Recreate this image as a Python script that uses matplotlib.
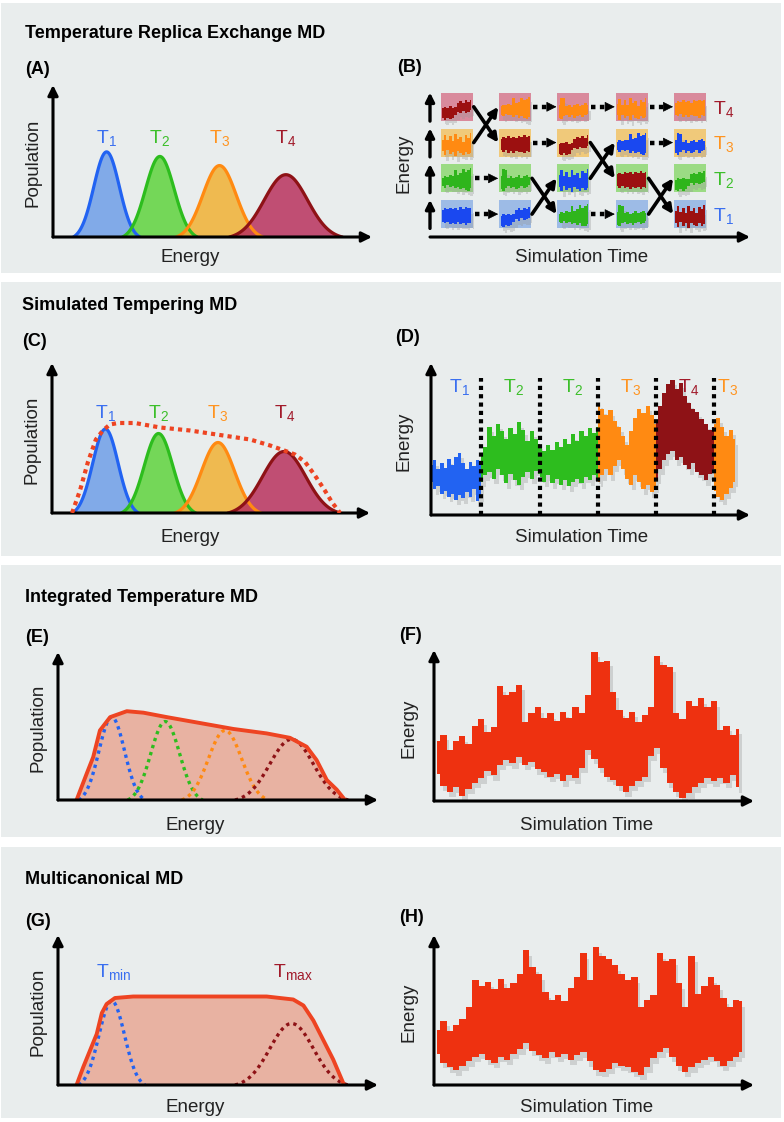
#schematic of enhanced sampling MD methods (REMD, ST, ITS, multicanonical)
import numpy as np
import matplotlib.pyplot as plt
import matplotlib.patheffects as pe
from matplotlib.patches import Rectangle

plt.rcParams['font.family'] = ['Liberation Sans', 'DejaVu Sans']
plt.rcParams['mathtext.fontset'] = 'custom'
plt.rcParams['mathtext.rm'] = 'Liberation Sans'
plt.rcParams['mathtext.it'] = 'Liberation Sans'

W, H = 784, 1122

# canonical distributions at T1..T4 (energy axis 0..10, population 0..1)
temp_names = ['1', '2', '3', '4']
peak_pos = [1.68, 3.35, 5.22, 7.30]
peak_h = [0.56, 0.53, 0.47, 0.41]
peak_sd = [0.40, 0.45, 0.52, 0.68]
line_col = ['#2263f2', '#2dbd1e', '#ff8a12', '#8e1216']
fill_col = ['#6f9fe8', '#60d43e', '#f1b235', '#b9325e']
label_col = ['#3a6ff0', '#3cbf2a', '#ff9420', '#a11a2a']

# simulated tempering envelope (C)
st_env_x = [0.63, 0.88, 1.13, 1.38, 1.60, 1.82, 2.08, 2.61, 3.40, 4.34, 5.28, 6.23,
            6.86, 7.26, 7.64, 7.96, 8.27, 8.58, 8.81, 9.06]
st_env_y = [0.0, 0.15, 0.34, 0.49, 0.55, 0.59, 0.60, 0.60, 0.57, 0.55, 0.52, 0.49,
            0.45, 0.42, 0.39, 0.34, 0.25, 0.15, 0.07, 0.0]

# integrated temperature envelope (E)
its_env_x = [0.58, 0.90, 1.10, 1.31, 1.63, 2.15, 2.67, 3.40, 4.44, 5.48, 6.52, 7.25,
             7.77, 8.08, 8.40, 8.71, 8.97]
its_env_y = [0.0, 0.18, 0.29, 0.47, 0.56, 0.60, 0.59, 0.56, 0.52, 0.48, 0.45, 0.42,
             0.36, 0.27, 0.135, 0.07, 0.0]

# multicanonical envelope (G)
muca_env_x = [0.58, 0.79, 1.00, 1.21, 1.37, 1.52, 1.78, 2.35, 4.44, 6.52, 7.35, 7.67,
              7.98, 8.29, 8.60, 8.92]
muca_env_y = [0.0, 0.12, 0.23, 0.34, 0.48, 0.54, 0.58, 0.59, 0.59, 0.59, 0.57, 0.53,
              0.43, 0.30, 0.17, 0.01]

# (B) replica exchange grid: replica found at T1..T4 in each time column
rep_colors = {'b': '#1a48f0', 'g': '#2fb51c', 'o': '#ff8a12', 'r': '#9c1010'}
row_bg = ['#9dbbe6', '#9bdb84', '#f0c97a', '#d98a9c']
b_grid = [['b', 'g', 'o', 'r'], ['b', 'g', 'r', 'o'], ['g', 'b', 'r', 'o'],
          ['g', 'r', 'b', 'o'], ['r', 'g', 'b', 'o']]
b_swaps = [(2, 3), (0, 1), (1, 2), (0, 1)]
# small energy traces inside the boxes (offsets from row centre)
b_up = [[0.15, 0.20, 0.17, 0.22, 0.18, 0.21, 0.16, 0.23, 0.19, 0.24, 0.20, 0.22],
        [0.00, 0.04, 0.02, 0.05, 0.01, 0.03, 0.15, 0.20, 0.16, 0.22, 0.18, 0.24],
        [0.05, 0.10, 0.08, 0.12, 0.10, 0.28, 0.14, 0.18, 0.30, 0.22, 0.26, 0.32],
        [0.10, 0.30, 0.28, 0.06, 0.10, 0.04, 0.08, 0.12, 0.06, 0.10, 0.14, 0.08],
        [0.12, 0.26, 0.10, 0.22, 0.08, 0.28, 0.14, 0.20, 0.06, 0.24, 0.18, 0.30]]
b_lo = [[-0.18, -0.22, -0.17, -0.24, -0.20, -0.25, -0.19, -0.23, -0.21, -0.26, -0.20, -0.22],
        [-0.28, -0.32, -0.26, -0.30, -0.27, -0.18, -0.10, -0.14, -0.08, -0.12, -0.10, -0.06],
        [-0.18, -0.22, -0.16, -0.20, -0.18, -0.24, -0.20, -0.26, -0.22, -0.28, -0.30, -0.24],
        [-0.26, -0.30, -0.22, -0.18, -0.24, -0.20, -0.26, -0.22, -0.18, -0.24, -0.20, -0.16],
        [-0.20, -0.32, -0.18, -0.28, -0.22, -0.34, -0.20, -0.26, -0.30, -0.22, -0.28, -0.24]]

# (D) simulated tempering trajectory, one segment per temperature stay
d_bounds = [0.0, 1.57, 3.42, 5.24, 7.05, 8.87, 9.53]
d_temp = [0, 1, 1, 2, 3, 2]
d_up = [[0.33, 0.36, 0.30, 0.34, 0.31, 0.37, 0.33, 0.38, 0.41, 0.34, 0.30, 0.35, 0.32, 0.36, 0.33],
        [0.40, 0.45, 0.58, 0.52, 0.60, 0.55, 0.50, 0.57, 0.53, 0.61, 0.56, 0.49, 0.55, 0.50, 0.47],
        [0.44, 0.42, 0.46, 0.43, 0.48, 0.45, 0.50, 0.47, 0.53, 0.49, 0.55, 0.52, 0.57, 0.54, 0.58],
        [0.74, 0.70, 0.66, 0.69, 0.62, 0.58, 0.52, 0.46, 0.55, 0.64, 0.70, 0.67, 0.72, 0.66, 0.60],
        [0.62, 0.72, 0.80, 0.86, 0.89, 0.83, 0.87, 0.78, 0.74, 0.70, 0.68, 0.63, 0.60, 0.56, 0.58],
        [0.60, 0.64, 0.58, 0.52, 0.56, 0.50]]
d_lo = [[0.22, 0.17, 0.19, 0.14, 0.16, 0.12, 0.14, 0.10, 0.13, 0.11, 0.15, 0.12, 0.17, 0.09, 0.12],
        [0.22, 0.26, 0.28, 0.24, 0.30, 0.26, 0.21, 0.27, 0.23, 0.20, 0.25, 0.28, 0.24, 0.29, 0.27],
        [0.25, 0.22, 0.26, 0.21, 0.24, 0.20, 0.23, 0.19, 0.22, 0.24, 0.21, 0.25, 0.23, 0.26, 0.24],
        [0.22, 0.26, 0.30, 0.26, 0.32, 0.36, 0.30, 0.24, 0.20, 0.26, 0.22, 0.17, 0.20, 0.15, 0.18],
        [0.24, 0.30, 0.36, 0.40, 0.42, 0.36, 0.38, 0.33, 0.30, 0.34, 0.28, 0.26, 0.23, 0.27, 0.30],
        [0.16, 0.12, 0.10, 0.14, 0.18, 0.22]]

# (F) integrated temperature trajectory
f_up = [0.40, 0.44, 0.34, 0.40, 0.43, 0.38, 0.50, 0.54, 0.46, 0.49, 0.76, 0.70, 0.72,
        0.77, 0.52, 0.58, 0.62, 0.55, 0.58, 0.53, 0.59, 0.55, 0.62, 0.58, 0.70, 0.99,
        0.92, 0.93, 0.72, 0.60, 0.55, 0.59, 0.52, 0.57, 0.62, 0.96, 0.90, 0.89, 0.58,
        0.54, 0.66, 0.63, 0.68, 0.62, 0.66, 0.47, 0.50, 0.44, 0.48]
f_lo = [0.18, 0.10, 0.06, 0.09, 0.03, 0.08, 0.12, 0.15, 0.20, 0.17, 0.24, 0.27, 0.25,
        0.29, 0.24, 0.26, 0.21, 0.19, 0.16, 0.18, 0.13, 0.17, 0.15, 0.22, 0.34, 0.28,
        0.22, 0.16, 0.14, 0.10, 0.06, 0.10, 0.13, 0.16, 0.30, 0.35, 0.22, 0.12, 0.06,
        0.02, 0.05, 0.09, 0.12, 0.15, 0.13, 0.15, 0.12, 0.17, 0.09]

# (H) multicanonical trajectory
h_up = [0.37, 0.43, 0.36, 0.40, 0.44, 0.52, 0.70, 0.66, 0.69, 0.64, 0.71, 0.65, 0.68,
        0.74, 0.90, 0.79, 0.74, 0.62, 0.57, 0.60, 0.56, 0.65, 0.72, 0.88, 0.70, 0.92,
        0.86, 0.84, 0.80, 0.74, 0.70, 0.72, 0.52, 0.57, 0.60, 0.88, 0.83, 0.84, 0.68,
        0.52, 0.86, 0.61, 0.66, 0.72, 0.67, 0.58, 0.52, 0.57, 0.56]
h_lo = [0.21, 0.15, 0.12, 0.10, 0.13, 0.16, 0.19, 0.21, 0.17, 0.15, 0.19, 0.17, 0.21,
        0.24, 0.28, 0.23, 0.20, 0.18, 0.22, 0.19, 0.21, 0.17, 0.20, 0.22, 0.16, 0.10,
        0.09, 0.11, 0.15, 0.13, 0.12, 0.09, 0.07, 0.12, 0.18, 0.22, 0.25, 0.19, 0.13,
        0.09, 0.12, 0.15, 0.17, 0.19, 0.16, 0.13, 0.16, 0.19, 0.22]

trace_red = '#ee3110'
env_red = '#ee4422'
env_fill = '#e8b2a2'

fig = plt.figure(figsize=(W / 100, H / 100), dpi=100)
for y0, y1 in [(3, 273), (282, 556), (565, 837), (847, 1118)]:
    fig.add_artist(Rectangle((1 / W, 1 - y1 / H), 780 / W, (y1 - y0) / H,
                             transform=fig.transFigure, fc='#e9eded', ec='none', zorder=-5))


def panel(l, t, r, b, xlim=(0, 10), ylim=(0, 1)):
    ax = fig.add_axes([l / W, 1 - b / H, (r - l) / W, (b - t) / H])
    ax.set_xlim(*xlim)
    ax.set_ylim(*ylim)
    ax.axis('off')
    return ax


def ftext(x, y, s, **kw):
    fig.text(x / W, 1 - y / H, s, **kw)


def axis_arrows(ax, yaxis=True):
    kw = dict(arrowstyle='-|>', color='k', lw=2.2, mutation_scale=15, shrinkA=0, shrinkB=0)
    ax.annotate('', xy=(1.0, 0), xytext=(0, 0), xycoords='axes fraction', arrowprops=kw)
    if yaxis:
        ax.annotate('', xy=(0, 1.0), xytext=(0, 0), xycoords='axes fraction', arrowprops=kw)


def bell(i):
    c, h, s = peak_pos[i], peak_h[i], peak_sd[i]
    x = np.linspace(c - 2.6 * s, c + 2.6 * s, 120)
    g0 = np.exp(-2.6 ** 2 / 2)
    return x, h * (np.exp(-(x - c) ** 2 / (2 * s * s)) - g0) / (1 - g0)


shadow = [pe.SimplePatchShadow(offset=(2, -4), shadow_rgbFace='#9a9a9a', alpha=0.35), pe.Normal()]

# titles and panel letters
title_kw = dict(fontsize=13, fontweight='bold', va='center', ha='left')
ftext(25, 33, 'Temperature Replica Exchange MD', **title_kw)
ftext(22, 306, 'Simulated Tempering MD', **title_kw)
ftext(25, 597, 'Integrated Temperature MD', **title_kw)
ftext(25, 880, 'Multicanonical MD', **title_kw)
for x, y, s in [(25, 69, '(A)'), (397, 67, '(B)'), (22, 342, '(C)'), (395, 338, '(D)'),
                (25, 637, '(E)'), (399, 635, '(F)'), (25, 922, '(G)'), (399, 918, '(H)')]:
    ftext(x, y, s, **title_kw)

lab_kw = dict(fontsize=13.5, color='#222222', va='center', ha='center')
for x, y in [(33, 163), (32, 440), (38, 728), (38, 1012)]:
    ftext(x, y, 'Population', rotation=90, **lab_kw)
for x, y in [(404, 163), (404, 441), (409, 728), (409, 1012)]:
    ftext(x, y, 'Energy', rotation=90, **lab_kw)
for x, y in [(190, 258), (190, 537), (195, 825), (195, 1107)]:
    ftext(x, y, 'Energy', **lab_kw)
for x, y in [(582, 258), (582, 537), (587, 825), (587, 1107)]:
    ftext(x, y, 'Simulation Time', **lab_kw)

# (A) and (C): replica / tempering distributions
for (l, t, r, b), lab_y, envelope in [((53, 85, 372, 237), 0.65, False),
                                       ((52, 363, 370, 513), 0.67, True)]:
    ax = panel(l, t, r, b)
    for i in range(4):
        x, y = bell(i)
        ax.fill_between(x, 0, y, color=fill_col[i], alpha=0.85, lw=0)
        ax.plot(x, y, color=line_col[i], lw=2.3, solid_capstyle='round')
        ax.text(peak_pos[i], lab_y, 'T$_{' + temp_names[i] + '}$', color=label_col[i],
                fontsize=14, ha='center', va='center')
    if envelope:
        ax.plot(st_env_x, st_env_y, color=env_red, lw=3, ls=(0, (1, 1)), zorder=5)
    axis_arrows(ax)

# (E): integrated temperature
ax = panel(58, 652, 378, 800)
ax.fill_between(its_env_x, 0, its_env_y, color=env_fill, lw=0)
for i in range(4):
    x, y = bell(i)
    ax.plot(x, y, color=line_col[i], lw=2.4, ls=(0, (1, 1.2)))
ax.plot(its_env_x, its_env_y, color=env_red, lw=2.8, solid_capstyle='round', solid_joinstyle='round')
axis_arrows(ax)

# (G): multicanonical
ax = panel(58, 935, 378, 1085)
ax.fill_between(muca_env_x, 0, muca_env_y, color=env_fill, lw=0)
for i, name in [(0, 'min'), (3, 'max')]:
    x, y = bell(i)
    ax.plot(x, y, color=line_col[i], lw=2.4, ls=(0, (1, 1.2)))
    ax.text(peak_pos[i] + 0.05, 0.75, r'T$_{\mathrm{' + name + '}}$', color=label_col[i],
            fontsize=14, ha='center', va='center')
ax.plot(muca_env_x, muca_env_y, color=env_red, lw=2.8, solid_capstyle='round', solid_joinstyle='round')
axis_arrows(ax)

# (B): replica exchange grid
ax = panel(430, 85, 750, 237, xlim=(-0.46, 5.03), ylim=(-0.64, 3.61))
for i, col in enumerate(b_grid):
    for j, rep in enumerate(col):
        ax.add_patch(Rectangle((i - 0.275, j - 0.39), 0.55, 0.78, fc=row_bg[j], ec='none'))
        k = (i + 2 * j) % 5
        x = np.linspace(i - 0.25, i + 0.25, len(b_up[k]))
        ax.fill_between(x, j - 0.04 + np.array(b_lo[k]), j - 0.04 + np.array(b_up[k]),
                        step='mid', color=rep_colors[rep], lw=0, path_effects=shadow)
for i, (s0, s1) in enumerate(b_swaps):
    for j in range(4):
        if j in (s0, s1):
            j2 = s1 if j == s0 else s0
            ax.annotate('', xy=(i + 1 - 0.29, j2), xytext=(i + 0.29, j),
                        arrowprops=dict(arrowstyle='-|>', color='k', lw=2.6, mutation_scale=13,
                                        shrinkA=0, shrinkB=0))
        else:
            ax.plot([i + 0.31, i + 1 - 0.40], [j, j], color='k', lw=3.2, ls=(0, (1, 1)))
            ax.annotate('', xy=(i + 1 - 0.29, j), xytext=(i + 1 - 0.42, j),
                        arrowprops=dict(arrowstyle='-|>', color='k', lw=0.5, mutation_scale=16,
                                        shrinkA=0, shrinkB=0))
for j in range(4):
    ax.annotate('', xy=(-0.46, j + 0.40), xytext=(-0.46, j - 0.40),
                arrowprops=dict(arrowstyle='-|>', color='k', lw=2.4, mutation_scale=13,
                                shrinkA=0, shrinkB=0), annotation_clip=False)
    ax.text(4.39, j - 0.05, 'T$_{' + temp_names[j] + '}$', color=label_col[j], fontsize=14,
            ha='left', va='center')
axis_arrows(ax, yaxis=False)

# (D): simulated tempering trajectory
ax = panel(431, 363, 750, 515)
for k, ti in enumerate(d_temp):
    x = np.linspace(d_bounds[k], d_bounds[k + 1], len(d_up[k]))
    ax.fill_between(x, d_lo[k], d_up[k], step='mid', color=line_col[ti], lw=0,
                    path_effects=shadow)
    ax.text((d_bounds[k] + d_bounds[k + 1]) / 2 + 0.1, 0.84, 'T$_{' + temp_names[ti] + '}$',
            color=label_col[ti], fontsize=14, ha='center', va='center')
for xb in d_bounds[1:-1]:
    ax.plot([xb, xb], [0, 0.90], color='k', lw=3, ls=(0, (1, 1)), zorder=4)
axis_arrows(ax)

# (F) and (H): continuous-temperature trajectories
for (l, t, r, b), up, lo, t_end in [((434, 650, 754, 801), f_up, f_lo, 9.53),
                                    ((434, 935, 754, 1085), h_up, h_lo, 9.64)]:
    ax = panel(l, t, r, b)
    x = np.linspace(0.1, t_end, len(up))
    ax.fill_between(x, lo, up, step='mid', color=trace_red, lw=0, path_effects=shadow)
    axis_arrows(ax)

plt.savefig('out.png', dpi=100, facecolor='white')
